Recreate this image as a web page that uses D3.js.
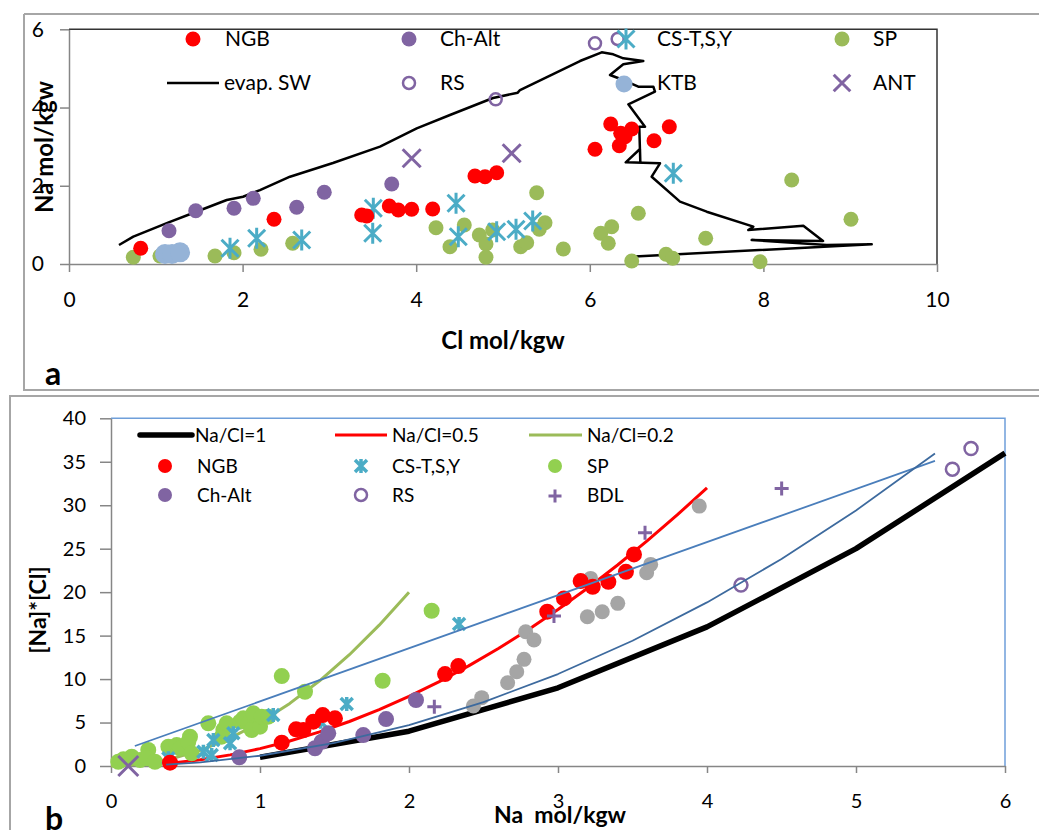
<!DOCTYPE html>
<html>
<head>
<meta charset="utf-8">
<script src="https://cdn.jsdelivr.net/npm/d3@7"></script>
<style>
  body { margin: 0; background: #fff; }
  text { font-family: Lato, "Open Sans", sans-serif; fill: #000; }
</style>
</head>
<body>
<svg id="chart" width="1039" height="830"></svg>
<script>
// ---------- Panel a: Na vs Cl (mol/kgw) ----------
const aTicksX = [0, 2, 4, 6, 8, 10];
const aTicksY = [0, 2, 4, 6];

// evaporating seawater path [Cl, Na]
const evapSW = [
  [0.576,0.486],[0.741,0.698],[1.141,1.056],[1.429,1.304],[1.817,1.636],[2.005,1.720],
  [2.200,1.890],[2.546,2.232],[3.041,2.582],[3.583,2.999],[4.006,3.469],[4.389,3.809],
  [4.885,4.243],[5.170,4.380],[5.196,4.448],[5.887,5.189],[6.137,5.412],[6.270,5.361],
  [6.386,5.258],[6.616,5.189],[6.386,5.105],[6.233,4.831],[6.386,4.703],[6.559,4.532],
  [6.732,4.532],[6.751,4.404],[6.444,4.082],[6.636,3.510],[6.570,3.510],[6.582,2.600],
  [6.578,2.940],[6.414,2.600],[6.809,2.574],[6.713,2.232],[7.039,1.593],[7.347,1.337],
  [7.884,0.954],[7.826,0.869],[8.460,0.979],[8.687,0.588],[7.865,0.613],[8.729,0.486],
  [9.248,0.504],[6.463,0.187]
];
const aNGB = [
  [0.826,0.401],[2.362,1.143],[3.372,1.253],[3.430,1.227],[3.690,1.483],[3.794,1.380],
  [3.948,1.398],[4.190,1.406],[4.677,2.249],[4.793,2.232],[4.927,2.334],[6.241,3.579],
  [6.356,3.341],[6.483,3.451],[6.406,3.254],[6.340,3.024],[6.060,2.932],[6.740,3.152],
  [6.916,3.510]
];
const aChAlt = [
  [1.152,0.851],[1.460,1.362],[1.901,1.424],[2.123,1.679],[2.623,1.449],[2.941,1.833],[3.718,2.045]
];
const aRS = [[4.916,4.210],[6.060,5.642],[6.321,5.752]];
const aCS = [
  [1.855,0.401],[2.162,0.657],[2.681,0.613],[3.506,1.424],[3.499,0.785],[4.459,1.552],
  [4.485,0.698],[4.927,0.826],[5.150,0.887],[5.342,1.099],[6.962,2.319]
];
const aANT = [[3.948,2.702],[5.100,2.830]];
const aKTB = [[1.106,0.256],[1.187,0.256],[1.279,0.299]];
const aSP = [
  [0.741,0.171],[1.048,0.204],[1.682,0.204],[1.901,0.289],[2.212,0.376],[2.577,0.529],
  [4.228,0.928],[4.389,0.442],[4.554,0.997],[4.727,0.741],[4.804,0.511],[4.804,0.171],
  [4.881,0.869],[5.204,0.442],[5.273,0.544],[5.388,1.823],[5.484,1.056],[5.418,0.887],
  [5.695,0.383],[8.326,2.147],[9.009,1.143],[6.559,1.296],[6.252,0.953],[6.126,0.785],
  [6.213,0.529],[7.335,0.657],[6.483,0.077],[6.878,0.248],[6.955,0.146],[7.961,0.059]
];

// ---------- Panel b: [Na]*[Cl] vs Na (mol/kgw) ----------
const bTicksX = [0, 1, 2, 3, 4, 5, 6];
const bTicksY = [0, 5, 10, 15, 20, 25, 30, 35, 40];

const ratio1 = [[1,1],[2,4],[3,9],[4,16],[5,25],[6,36]];
const ratio05 = [
  [0.4,0.32],[0.6,0.72],[0.8,1.28],[1.0,2.0],[1.2,2.88],[1.4,3.92],[1.6,5.12],[1.8,6.48],
  [2.0,8.0],[2.2,9.68],[2.4,11.52],[2.6,13.52],[2.8,15.68],[3.0,18.0],[3.2,20.48],
  [3.4,23.12],[3.6,25.92],[3.8,28.88],[4.0,32.0]
];
const ratio02 = [
  [0,0],[0.2,0.2],[0.4,0.8],[0.6,1.8],[0.8,3.2],[1.0,5.0],[1.2,7.2],[1.4,9.8],
  [1.6,12.8],[1.8,16.2],[2.0,20.0]
];
const trendA = [[0.16,2.3],[5.53,35.1]];
const trendB = [
  [0.37,0.16],[0.6,0.42],[1.0,1.18],[1.5,2.65],[2.0,4.70],[2.5,7.35],[3.0,10.58],
  [3.5,14.41],[4.0,18.82],[4.5,23.81],[5.0,29.40],[5.53,35.96]
];
const bGray = [
  [2.432,6.90],[2.488,7.86],[2.662,9.58],[2.723,10.84],[2.772,12.27],[2.783,15.45],
  [2.839,14.49],[3.197,17.17],[3.297,17.75],[3.401,18.71],[3.219,21.58],[3.595,22.23],
  [3.622,23.19],[3.948,29.90]
];
const bNGB = [
  [0.396,0.38],[1.146,2.68],[1.242,4.22],[1.291,4.14],[1.421,5.86],[1.358,5.10],[1.503,5.48],
  [2.242,10.58],[2.331,11.50],[2.928,17.75],[3.040,19.28],[3.152,21.27],[3.233,20.62],
  [3.338,21.19],[3.456,22.34],[3.510,24.34]
];
const bCS = [
  [0.385,0.88],[0.620,1.65],[0.676,1.26],[0.687,2.99],[0.799,2.61],[0.821,3.76],
  [1.089,5.86],[1.407,5.10],[1.582,7.13],[2.336,16.33]
];
const bChAlt = [
  [0.861,1.00],[1.369,2.04],[1.414,2.79],[1.458,3.76],[1.693,3.56],[1.846,5.40],[2.047,7.59]
];
const bRS = [[4.228,20.81],[5.647,34.15],[5.772,36.53]];
const bBDL = [[2.170,6.82],[2.973,17.25],[3.584,26.83],[4.501,31.93]];
const bANT = [[0.116,0.0]];
const bSP = [
  [1.146,10.35],[1.302,8.54],[1.823,9.81],[2.152,17.86],
  [0.049,0.49],[0.083,0.77],[0.139,1.07],[0.195,0.69],[0.250,1.84],[0.240,0.88],
  [0.295,0.49],[0.385,2.22],[0.441,2.41],[0.463,2.03],[0.530,3.37],[0.519,2.79],
  [0.541,1.46],[0.653,4.91],[0.743,3.37],[0.754,4.14],[0.776,4.91],[0.866,5.10],
  [0.888,5.48],[0.921,4.91],[0.944,4.14],[0.955,6.06],[1.000,4.52],[1.011,5.67],[1.056,5.67]
];

// ---------- colours ----------
const C = {
  red: "#FF0000", purple: "#8064A2", cyan: "#4BACC6", olive: "#9BBB59",
  lime: "#92D050", ktb: "#95B3D7", gray: "#A5A5A5", axis: "#868686",
  blueA: "#4A7EBB", blueB: "#3D6A9E", frameB: "#6F9FDA"
};

const svg = d3.select("#chart");
svg.append("rect").attr("width", 1039).attr("height", 830).attr("fill", "#fff");

// marker shapes
function starPath(s, d) { return `M0,${-s}L0,${s}M${-d},${-d}L${d},${d}M${-d},${d}L${d},${-d}`; }
function xPath(s) { return `M${-s},${-s}L${s},${s}M${-s},${s}L${s},${-s}`; }
function plusPath(s) { return `M${-s},0L${s},0M0,${-s}L0,${s}`; }

function dots(g, data, x, y, r, color) {
  g.append("g").selectAll("circle").data(data).join("circle")
    .attr("cx", d => x(d[0])).attr("cy", d => y(d[1])).attr("r", r).attr("fill", color);
}
function rings(g, data, x, y, r, color, w) {
  g.append("g").selectAll("circle").data(data).join("circle")
    .attr("cx", d => x(d[0])).attr("cy", d => y(d[1])).attr("r", r)
    .attr("fill", "none").attr("stroke", color).attr("stroke-width", w);
}
function glyphs(g, data, x, y, path, color, w) {
  g.append("g").selectAll("path").data(data).join("path")
    .attr("transform", d => `translate(${x(d[0])},${y(d[1])})`)
    .attr("d", path).attr("fill", "none").attr("stroke", color).attr("stroke-width", w);
}
function line(g, data, x, y, color, w) {
  g.append("path").datum(data)
    .attr("d", d3.line().x(d => x(d[0])).y(d => y(d[1])))
    .attr("fill", "none").attr("stroke", color).attr("stroke-width", w)
    .attr("stroke-linejoin", "round");
}
function styleAxis(g, size) {
  g.select(".domain").attr("stroke", C.axis).attr("stroke-width", 1.5);
  g.selectAll(".tick line").attr("stroke", C.axis).attr("stroke-width", 1.5);
  g.selectAll(".tick text").attr("font-size", size).attr("fill", "#000")
    .style("font-family", "Lato, 'Open Sans', sans-serif");
}
const intFmt = d3.format("d");

// ---------- panel frames ----------
svg.append("path").attr("d", "M24,14L1039,14M24,14L24,390L1039,390")
  .attr("fill", "none").attr("stroke", "#A6A6A6").attr("stroke-width", 2);
svg.append("path").attr("d", "M10,832L10,396L1039,396")
  .attr("fill", "none").attr("stroke", "#A6A6A6").attr("stroke-width", 2);

// ================= Panel a =================
const xA = d3.scaleLinear().domain([0, 10]).range([69, 937]);
const yA = d3.scaleLinear().domain([0, 6]).range([264, 29.3]);
const gA = svg.append("g");

gA.append("path")
  .attr("d", `M${xA(0)},${yA(6)}L${xA(10)},${yA(6)}L${xA(10)},${yA(0)}`)
  .attr("fill", "none").attr("stroke", "#333").attr("stroke-width", 1.5);

styleAxis(gA.append("g").attr("transform", `translate(0,${yA(0)})`)
  .call(d3.axisBottom(xA).tickValues(aTicksX).tickFormat(intFmt)
    .tickSizeInner(8).tickSizeOuter(0).tickPadding(20)), 21);
styleAxis(gA.append("g").attr("transform", `translate(${xA(0)},0)`)
  .call(d3.axisLeft(yA).tickValues(aTicksY).tickFormat(intFmt)
    .tickSizeInner(9).tickSizeOuter(0).tickPadding(16)), 21);

line(gA, evapSW, xA, yA, "#000", 2.5);
dots(gA, aSP, xA, yA, 7.5, C.olive);
dots(gA, aKTB, xA, yA, 10, C.ktb);
glyphs(gA, aCS, xA, yA, starPath(10.5, 8.5), C.cyan, 3);
dots(gA, aChAlt, xA, yA, 7.5, C.purple);
dots(gA, aNGB, xA, yA, 7.5, C.red);
rings(gA, aRS, xA, yA, 6, C.purple, 2.5);
glyphs(gA, aANT, xA, yA, xPath(9), C.purple, 3);

// legend a
const legA = gA.append("g").attr("font-size", 21);
function legText(g, x, y, t) {
  g.append("text").attr("x", x).attr("y", y).attr("dy", "0.35em").text(t);
}
legA.append("circle").attr("cx", 193).attr("cy", 39).attr("r", 7.5).attr("fill", C.red);
legText(legA, 225, 39, "NGB");
legA.append("circle").attr("cx", 409).attr("cy", 39).attr("r", 7.5).attr("fill", C.purple);
legText(legA, 440, 39, "Ch-Alt");
legA.append("path").attr("transform", "translate(626,39)").attr("d", starPath(10.5, 8.5))
  .attr("stroke", C.cyan).attr("stroke-width", 3).attr("fill", "none");
legText(legA, 657, 39, "CS-T,S,Y");
legA.append("circle").attr("cx", 842).attr("cy", 39).attr("r", 7.5).attr("fill", C.olive);
legText(legA, 873, 39, "SP");
legA.append("line").attr("x1", 167).attr("x2", 219).attr("y1", 83).attr("y2", 83)
  .attr("stroke", "#000").attr("stroke-width", 2.5);
legText(legA, 224, 83, "evap. SW");
legA.append("circle").attr("cx", 409).attr("cy", 83).attr("r", 6).attr("fill", "none")
  .attr("stroke", C.purple).attr("stroke-width", 2.5);
legText(legA, 440, 83, "RS");
legA.append("circle").attr("cx", 624).attr("cy", 84).attr("r", 8.5).attr("fill", C.ktb);
legText(legA, 657, 83, "KTB");
legA.append("path").attr("transform", "translate(842,83)").attr("d", xPath(8.3))
  .attr("stroke", C.purple).attr("stroke-width", 3).attr("fill", "none");
legText(legA, 873, 83, "ANT");

// axis titles a
gA.append("text").attr("x", 503).attr("y", 341).attr("dy", "0.35em").attr("text-anchor", "middle")
  .attr("font-size", 24).attr("font-weight", "bold").text("Cl mol/kgw");
gA.append("text").attr("transform", "translate(45,147) rotate(-90)").attr("dy", "0.35em")
  .attr("text-anchor", "middle").attr("font-size", 24).attr("font-weight", "bold").text("Na mol/kgw");
gA.append("text").attr("x", 45).attr("y", 385).attr("font-size", 32).attr("font-weight", "bold").text("a");

// ================= Panel b =================
const xB = d3.scaleLinear().domain([0, 6]).range([111, 1005]);
const yB = d3.scaleLinear().domain([0, 40]).range([766, 418.3]);
const gB = svg.append("g");

gB.append("path")
  .attr("d", `M${xB(0)},${yB(40)}L${xB(6)},${yB(40)}L${xB(6)},${yB(0)}`)
  .attr("fill", "none").attr("stroke", C.frameB).attr("stroke-width", 1.5);

styleAxis(gB.append("g").attr("transform", `translate(0,${yB(0)})`)
  .call(d3.axisBottom(xB).tickValues(bTicksX).tickFormat(intFmt)
    .tickSizeInner(7).tickSizeOuter(0).tickPadding(21)), 20);
styleAxis(gB.append("g").attr("transform", `translate(${xB(0)},0)`)
  .call(d3.axisLeft(yB).tickValues(bTicksY).tickFormat(intFmt)
    .tickSizeInner(11).tickSizeOuter(0).tickPadding(14)), 20);

line(gB, ratio1, xB, yB, "#000", 5.5);
line(gB, ratio05, xB, yB, C.red, 3);
line(gB, ratio02, xB, yB, C.olive, 3);

dots(gB, bGray, xB, yB, 7.5, C.gray);
dots(gB, bSP, xB, yB, 8, C.lime);
glyphs(gB, bCS, xB, yB, starPath(7, 6), C.cyan, 3.5);
dots(gB, bChAlt, xB, yB, 8, C.purple);
dots(gB, bNGB, xB, yB, 8, C.red);
rings(gB, bRS, xB, yB, 6.5, C.purple, 2.5);
glyphs(gB, bBDL, xB, yB, plusPath(7), C.purple, 3);
glyphs(gB, bANT, xB, yB, xPath(10), C.purple, 3);

line(gB, trendA, xB, yB, C.blueA, 1.8);
line(gB, trendB, xB, yB, C.blueB, 1.8);

// legend b
const legB = gB.append("g").attr("font-size", 19);
legB.append("line").attr("x1", 140).attr("x2", 192).attr("y1", 435).attr("y2", 435)
  .attr("stroke", "#000").attr("stroke-width", 5.5).attr("stroke-linecap", "round");
legText(legB, 195, 435, "Na/Cl=1");
legB.append("line").attr("x1", 335).attr("x2", 387).attr("y1", 435).attr("y2", 435)
  .attr("stroke", C.red).attr("stroke-width", 3);
legText(legB, 392, 435, "Na/Cl=0.5");
legB.append("line").attr("x1", 529).attr("x2", 582).attr("y1", 435).attr("y2", 435)
  .attr("stroke", C.olive).attr("stroke-width", 3);
legText(legB, 587, 435, "Na/Cl=0.2");
legB.append("circle").attr("cx", 165).attr("cy", 466).attr("r", 7).attr("fill", C.red);
legText(legB, 197, 466, "NGB");
legB.append("path").attr("transform", "translate(361,466)").attr("d", starPath(7, 6))
  .attr("stroke", C.cyan).attr("stroke-width", 3.5).attr("fill", "none");
legText(legB, 392, 466, "CS-T,S,Y");
legB.append("circle").attr("cx", 555).attr("cy", 466).attr("r", 7).attr("fill", C.lime);
legText(legB, 587, 466, "SP");
legB.append("circle").attr("cx", 165).attr("cy", 495).attr("r", 7).attr("fill", C.purple);
legText(legB, 197, 495, "Ch-Alt");
legB.append("circle").attr("cx", 361).attr("cy", 495).attr("r", 6).attr("fill", "none")
  .attr("stroke", C.purple).attr("stroke-width", 2.5);
legText(legB, 392, 495, "RS");
legB.append("path").attr("transform", "translate(555,496)").attr("d", plusPath(6.5))
  .attr("stroke", C.purple).attr("stroke-width", 3).attr("fill", "none");
legText(legB, 587, 495, "BDL");

// axis titles b
gB.append("text").attr("x", 560).attr("y", 815).attr("dy", "0.35em").attr("text-anchor", "middle")
  .attr("font-size", 23).attr("font-weight", "bold").attr("xml:space", "preserve")
  .style("white-space", "pre").text("Na  mol/kgw");
gB.append("text").attr("transform", "translate(38,610) rotate(-90)").attr("dy", "0.35em")
  .attr("text-anchor", "middle").attr("font-size", 23).attr("font-weight", "bold").text("[Na]*[Cl]");
gB.append("text").attr("x", 45).attr("y", 830).attr("font-size", 32).attr("font-weight", "bold").text("b");
</script>
</body>
</html>
